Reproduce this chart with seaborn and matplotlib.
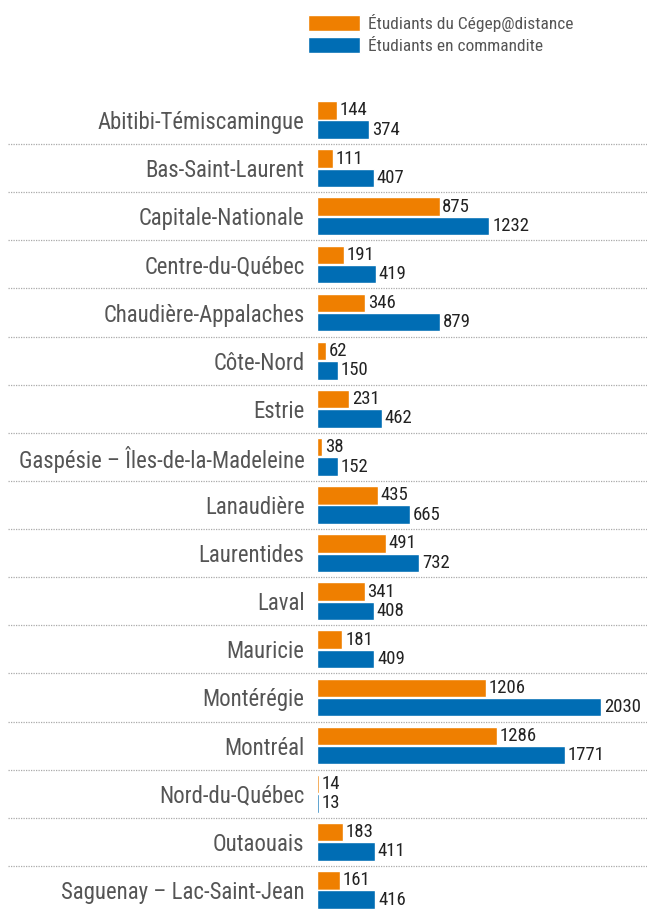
import pandas as pd
import matplotlib.pyplot as plt
import seaborn as sns
from matplotlib.patches import Patch

regions = [
    "Abitibi-Témiscamingue", "Bas-Saint-Laurent", "Capitale-Nationale",
    "Centre-du-Québec", "Chaudière-Appalaches", "Côte-Nord", "Estrie",
    "Gaspésie – Îles-de-la-Madeleine", "Lanaudière", "Laurentides", "Laval",
    "Mauricie", "Montérégie", "Montréal", "Nord-du-Québec", "Outaouais",
    "Saguenay – Lac-Saint-Jean",
]
cegep = [144, 111, 875, 191, 346, 62, 231, 38, 435, 491, 341, 181, 1206, 1286, 14, 183, 161]
commandite = [374, 407, 1232, 419, 879, 150, 462, 152, 665, 732, 408, 409, 2030, 1771, 13, 411, 416]
series = ["Étudiants du Cégep@distance", "Étudiants en commandite"]
colors = ["#ef7f00", "#006db4"]

df = pd.DataFrame({
    "Région": regions * 2,
    "Valeur": cegep + commandite,
    "Groupe": [series[0]] * len(regions) + [series[1]] * len(regions),
})

sns.set_theme(style="white")
plt.rcParams["font.family"] = ["Roboto Condensed", "DejaVu Sans"]

fig = plt.figure(figsize=(6.47, 9.17), dpi=100)
ax = fig.add_axes([317 / 647, 3 / 917, 330 / 647, 818 / 917])

sns.barplot(data=df, y="Région", x="Valeur", hue="Groupe", palette=colors,
            saturation=1, orient="h", width=0.8, gap=0.04, legend=False, ax=ax)

for cont in ax.containers:
    ax.bar_label(cont, padding=2, fontsize=13.5, color="#222222")

ax.set_xlim(0, 2357)
ax.set_ylim(len(regions) - 0.5, -0.5)
ax.set_xlabel("")
ax.set_ylabel("")
ax.set_xticks([])
ax.tick_params(axis="y", length=0, pad=9, labelsize=16.4, labelcolor="#555555")
for s in ax.spines.values():
    s.set_visible(False)

# dotted separators between regions
for i in range(len(regions) - 1):
    ax.axhline(i + 0.5, xmin=-0.935, xmax=1.0, color="#aaaaaa", lw=0.9,
               ls=(0, (1, 1)), clip_on=False)

handles = [Patch(facecolor=c, label=s) for c, s in zip(colors, series)]
fig.legend(handles=handles, loc="upper left", bbox_to_anchor=(294 / 647, 1.0),
           frameon=False, fontsize=12.5, handlelength=3.0, handleheight=1.0,
           handletextpad=0.45, labelspacing=0.3, labelcolor="#555555",
           borderpad=0.3)

fig.savefig("out.png", dpi=100)
